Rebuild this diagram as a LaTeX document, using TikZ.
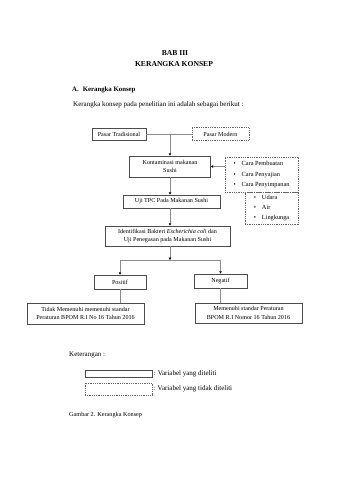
\documentclass[tikz,border=0pt]{standalone}
\usepackage{fontspec}
\setmainfont{Liberation Serif}
\usetikzlibrary{arrows.meta}
\begin{document}
\begin{tikzpicture}
  [x=1pt,y=-1pt,
   every node/.style={inner sep=1pt,text=black,font=\fontsize{6.1}{8.7}\selectfont},
   box/.style={draw=black!70,line width=0.6pt,align=center},
   dbox/.style={draw=black!60,line width=0.5pt,dash pattern=on 1pt off 0.8pt,align=center},
   list/.style={dbox,align=left,font=\fontsize{6.3}{10.3}\selectfont},
   arr/.style={draw=black!45,line width=0.5pt,-{Triangle[length=2.4pt,width=2.4pt,color=black]}},
   ln/.style={draw=black!45,line width=0.5pt},
   txt/.style={font=\fontsize{7}{8.5}\selectfont}]
  \useasboundingbox (0,0) rectangle (339,480);

  % Judul
  \node[font=\bfseries\fontsize{7.6}{9}\selectfont] (bab) at (175,53) {BAB III};
  \node[font=\bfseries\fontsize{7.6}{9}\selectfont] (judul) at (174,64) {KERANGKA KONSEP};
  \node[anchor=west,font=\bfseries\fontsize{6.8}{8}\selectfont] (sub) at (71,90) {A.\hspace{4pt}Kerangka Konsep};
  \node[txt,anchor=west] (kal) at (72,105) {Kerangka konsep pada penelitian ini adalah sebagai berikut :};

  % Kotak variabel
  \node[box,minimum width=54,minimum height=12] (trad) at (119,134) {Pasar Tradisional};
  \node[dbox,minimum width=57,minimum height=13] (mod) at (220.5,134) {Pasar Modern};
  \node[box,minimum width=81,minimum height=21] (kont) at (170,166.5) {Kontaminasi makanan\\Sushi};
  \node[list,minimum width=73,minimum height=35] (cara) at (261.5,174.5)
    {\textbullet\hspace{6pt}Cara Pembuatan\\\textbullet\hspace{6pt}Cara Penyajian\\\textbullet\hspace{6pt}Cara Penyimpanan};
  \node[box,minimum width=97,minimum height=13] (tpc) at (171.5,201.5) {Uji TPC Pada Makanan Sushi};
  \node[list,minimum width=53,minimum height=32] (udara) at (271.5,208)
    {\textbullet\hspace{6pt}Udara\\\textbullet\hspace{6pt}Air\\\textbullet\hspace{6pt}Lingkunga};
  \node[box,minimum width=125,minimum height=20] (ident) at (167.5,236)
    {Identifikasi Bakteri \textit{Escherichia coli} dan\\Uji Penegasan pada Makanan Sushi};
  \node[box,minimum width=52,minimum height=14] (pos) at (120,282) {Positif};
  \node[box,minimum width=53,minimum height=14] (neg) at (220.5,281) {Negatif};
  \node[box,minimum width=117,minimum height=21] (tidak) at (85.5,313.5)
    {Tidak Memenuhi memenuhi standar\\Peraturan BPOM R.I No 16 Tahun 2016};
  \node[box,minimum width=107,minimum height=20] (penuhi) at (248.5,313)
    {Memenuhi standar Peraturan\\BPOM R.I Nomor 16 Tahun 2016};

  % Garis penghubung
  \coordinate (j1) at (170,134);
  \coordinate (j2) at (170,260);
  \draw[ln] (trad) -- (mod);
  \draw[arr] (j1) -- (kont.north);
  \draw[arr] (cara.west |- kont.east) -- (kont.east);
  \draw[arr] (kont.south) -- (kont.south |- tpc.north);
  \draw[arr] (kont.south |- tpc.south) -- (kont.south |- ident.north);
  \draw[arr] (kont.south |- ident.south) -- (j2);
  \draw[ln] (pos.north |- j2) -- (neg.north |- j2);
  \draw[arr] (pos.north |- j2) -- (pos.north);
  \draw[arr] (neg.north |- j2) -- (neg.north);
  \draw[ln] (pos.south) -- (pos.south |- tidak.north);
  \draw[ln] (neg.south) -- (neg.south |- penuhi.north);

  % Keterangan
  \node[txt,anchor=west] (ket) at (68,355) {Keterangan :};
  \node[box,minimum width=67,minimum height=7] (leg1) at (118.5,373.5) {};
  \node[dbox,minimum width=67,minimum height=12] (leg2) at (118.5,389) {};
  \node[txt,anchor=west] (ket1) at (leg1.east) {: Variabel yang diteliti};
  \node[txt,anchor=west] (ket2) at (leg2.east) {: Variabel yang tidak diteliti};
  \node[anchor=west,font=\fontsize{6.2}{8}\selectfont] (gbr) at (68,415) {Gambar 2. Kerangka Konsep};
\end{tikzpicture}
\end{document}
